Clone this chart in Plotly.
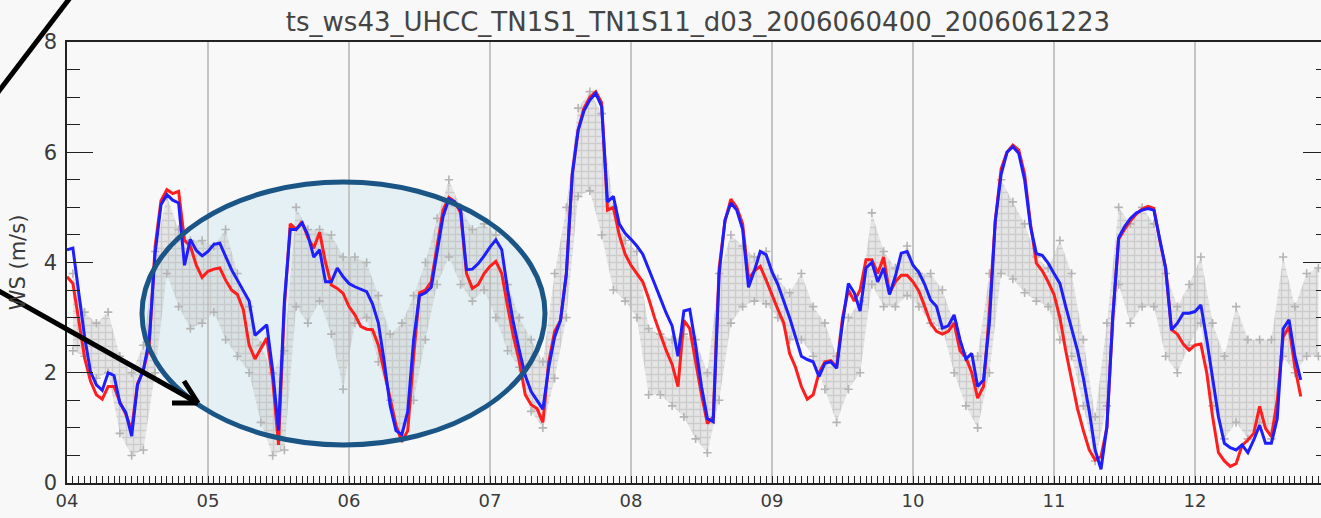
import pandas as pd
import plotly.graph_objects as go

# ---------------- data ----------------
start = "2006-06-04 00:00"

# model run 1 (red), hourly from 2006-06-04 00h
ws_red = [
    3.74, 3.62, 2.95, 2.27, 1.85, 1.6, 1.52, 1.75, 1.75, 1.47,
    1.25, 0.96, 1.8, 2.05, 2.5, 4.29, 5.12, 5.32, 5.25, 5.29,
    4.4, 4.3, 3.95, 3.73, 3.84, 3.88, 3.9, 3.68, 3.5, 3.42,
    3.15, 2.5, 2.25, 2.45, 2.63, 1.9, 0.69, 3.2, 4.7, 4.6,
    4.74, 4.45, 4.26, 4.55, 4.0, 3.59, 3.53, 3.44, 3.2, 3.05,
    2.84, 2.79, 2.78, 2.5, 2.0, 1.5, 1.05, 0.75, 0.95, 2.3,
    3.45, 3.5, 3.65, 4.3, 4.95, 5.18, 5.1, 4.9, 3.8, 3.53,
    3.6, 3.8, 3.93, 4.02, 3.8, 3.2, 2.65, 2.2, 1.6, 1.42,
    1.35, 1.1, 2.2, 2.75, 2.95, 3.8, 5.6, 6.4, 6.8, 7.0,
    7.1, 6.9, 4.95, 5.0, 4.5, 4.15, 3.95, 3.8, 3.65, 3.35,
    3.0, 2.7, 2.4, 2.15, 1.75, 2.95, 2.8, 2.2, 1.6, 1.08,
    1.2, 3.9, 4.75, 5.15, 5.0, 4.7, 3.7, 3.85, 3.93, 3.68,
    3.4, 3.15, 2.9, 2.35, 2.1, 1.75, 1.52, 1.6, 2.0, 2.2,
    2.22, 2.11, 3.0, 3.5, 3.3, 3.5, 4.05, 4.05, 3.8, 4.1,
    3.44, 3.65, 3.77, 3.77, 3.65, 3.48, 3.2, 2.9, 2.75, 2.7,
    2.75, 2.9, 2.4, 2.28, 2.0, 1.54, 1.75, 3.1, 4.75, 5.7,
    6.0, 6.13, 6.04, 5.6, 4.7, 3.99, 3.85, 3.65, 3.42, 3.0,
    2.4, 1.85, 1.35, 0.95, 0.6, 0.42, 0.48, 1.0, 3.0, 4.42,
    4.6, 4.75, 4.88, 4.97, 5.02, 4.98, 4.4, 3.9, 2.78, 2.7,
    2.52, 2.41, 2.5, 2.52, 2.0, 1.2, 0.55, 0.4, 0.3, 0.35,
    0.68, 0.78, 0.9, 1.39, 0.99, 0.84, 1.5, 2.65, 2.84, 2.1, 1.57,
]

# model run 2 (blue), hourly
ws_blue = [
    4.23, 4.26, 3.45, 2.65, 2.02, 1.78, 1.68, 2.0, 1.95, 1.45,
    1.28, 0.85, 1.78, 2.05, 2.6, 4.17, 5.05, 5.23, 5.13, 5.08,
    3.95, 4.42, 4.22, 4.12, 4.2, 4.33, 4.35, 4.1, 3.87, 3.68,
    3.5, 3.3, 2.68, 2.78, 2.87, 2.05, 0.95, 3.3, 4.6, 4.6,
    4.72, 4.5, 4.1, 4.23, 3.65, 3.65, 3.9, 3.74, 3.62, 3.56,
    3.52, 3.47, 3.25, 2.9, 2.2, 1.4, 0.95, 0.88, 1.3, 2.6,
    3.4, 3.45, 3.55, 4.2, 4.83, 5.15, 5.1, 4.95, 3.87, 3.88,
    3.98, 4.12, 4.28, 4.41, 4.23, 3.5, 2.9, 2.4, 1.95, 1.66,
    1.5, 1.34, 2.1, 2.65, 2.95, 3.8, 5.6, 6.4, 6.75, 6.95,
    7.07, 6.83, 5.1, 5.2, 4.7, 4.53, 4.42, 4.3, 4.15, 3.9,
    3.62, 3.35, 3.08, 2.85, 2.3, 3.12, 3.15, 2.5, 1.75, 1.17,
    1.11, 3.8, 4.77, 5.08, 4.95, 4.6, 3.55, 3.85, 4.2, 4.14,
    3.83, 3.6, 3.3, 3.0, 2.65, 2.3, 2.24, 2.2, 1.93, 2.17,
    2.2, 2.08, 2.9, 3.62, 3.45, 3.12, 3.9, 4.0, 3.65, 3.9,
    3.42, 3.75, 4.17, 4.2, 3.95, 3.82, 3.6, 3.32, 3.2, 2.81,
    2.85, 3.05, 2.6, 2.25, 2.35, 1.75, 1.87, 2.9, 4.75, 5.6,
    6.0, 6.1, 5.98, 5.5, 4.65, 4.16, 4.13, 3.99, 3.8, 3.62,
    3.2, 2.78, 2.4, 1.9, 1.3, 0.6, 0.25, 1.02, 3.0, 4.45,
    4.65, 4.8, 4.9, 4.95, 4.98, 4.95, 4.4, 3.9, 2.78, 2.9,
    3.08, 3.08, 3.11, 3.23, 2.6, 1.9, 1.2, 0.72, 0.64, 0.6,
    0.69, 0.55, 0.78, 1.05, 0.72, 0.72, 1.17, 2.8, 2.96, 2.3, 1.87,
]

# observations: lower / upper edge of the dense point cloud, per 2-hour slot
obs_lo = [
    2.4, 2.3, 1.9, 2.0, 0.9, 0.5, 0.6, 2.0, 3.8, 3.2,
    2.8, 2.9, 3.1, 2.6, 2.3, 2.0, 1.1, 0.5, 0.6, 3.2,
    2.9, 3.3, 2.7, 1.7, 2.9, 3.0, 2.2, 1.5, 0.8, 1.5,
    2.6, 3.6, 4.1, 3.6, 3.3, 3.5, 3.0, 2.4, 2.1, 1.3,
    1.0, 1.9, 3.0, 5.2, 5.3, 4.5, 3.5, 3.3, 3.0, 1.6,
    1.6, 1.4, 1.2, 0.8, 0.55, 1.5, 2.9, 3.2, 3.3, 3.25,
    3.0, 2.6, 2.6, 2.3, 1.7, 1.1, 1.7, 2.0, 3.6, 3.2,
    3.2, 3.4, 3.2, 2.9, 2.8, 2.0, 1.4, 1.0, 2.0, 3.8,
    3.7, 3.45, 3.3, 3.2, 2.6, 2.3, 1.4, 0.4, 1.4, 3.6,
    2.9, 3.2, 3.2, 2.3, 2.0, 2.5, 2.9, 1.4, 0.8, 1.1,
    0.8, 1.1, 0.8, 2.3, 2.0, 2.3, 2.3,
]
obs_hi = [
    3.8, 3.1, 2.9, 3.1, 2.3, 2.0, 2.5, 4.2, 5.2, 4.6,
    4.4, 4.4, 4.3, 4.6, 3.8, 3.2, 2.5, 2.0, 2.4, 5.0,
    4.6, 4.6, 4.5, 4.1, 4.1, 4.0, 3.4, 2.7, 2.9, 3.4,
    4.0, 4.8, 5.5, 5.0, 4.6, 4.7, 4.5, 3.6, 3.0, 2.6,
    2.2, 3.8, 5.0, 6.8, 7.1, 6.7, 5.0, 4.4, 4.2, 2.8,
    2.7, 2.6, 2.7, 2.6, 2.0, 3.8, 4.5, 4.3, 4.1, 4.2,
    3.7, 3.45, 3.8, 3.2, 2.9, 2.3, 3.0, 3.3, 4.9, 4.2,
    3.9, 4.3, 3.8, 3.8, 3.5, 2.9, 2.3, 2.3, 3.8, 5.5,
    5.1, 4.7, 4.1, 3.9, 4.4, 3.8, 2.6, 1.2, 2.9, 5.0,
    4.7, 5.0, 4.7, 3.8, 3.2, 3.6, 4.1, 2.9, 2.3, 3.2,
    2.6, 2.6, 2.6, 4.1, 3.2, 3.8, 3.9,
]

title_text = "ts_ws43_UHCC_TN1S1_TN1S11_d03_2006060400_2006061223"
y_title = "WS (m/s)"

# ---------------- build ----------------
t_model = pd.date_range(start, periods=len(ws_red), freq="h")
t_obs = pd.date_range(pd.Timestamp(start) + pd.Timedelta(hours=1),
                      periods=len(obs_lo), freq="2h")

W, H = 1321, 518
L, R, T, B = 67, 1321, 42, 483          # plot area in pixels


def px(xp):
    return (xp - L) / (R - L)


def py(yp):
    return (B - yp) / (B - T)


OBS_GREY = "#b4b4b4"

fig = go.Figure()
fig.add_trace(go.Scatter(x=t_obs, y=obs_lo, mode="lines",
                         line=dict(width=0, color="rgba(0,0,0,0)"),
                         hoverinfo="skip"))
fig.add_trace(go.Scatter(x=t_obs, y=obs_hi, mode="lines", fill="tonexty",
                         line=dict(width=0, color="rgba(0,0,0,0)"),
                         fillcolor="rgba(200,200,200,0.35)",
                         fillpattern=dict(shape="+", size=7, solidity=0.35,
                                          fgcolor=OBS_GREY,
                                          bgcolor="rgba(200,200,200,0.40)"),
                         hoverinfo="skip"))
# scattered observation points along the edges of the cloud
fig.add_trace(go.Scatter(x=list(t_obs) + list(t_obs), y=obs_lo + obs_hi,
                         mode="markers",
                         marker=dict(symbol="cross-thin", size=6,
                                     line=dict(width=1.6, color=OBS_GREY)),
                         hoverinfo="skip"))
fig.add_trace(go.Scatter(x=t_model, y=ws_red, mode="lines",
                         line=dict(color="#ff1e1e", width=3)))
fig.add_trace(go.Scatter(x=t_model, y=ws_blue, mode="lines",
                         line=dict(color="#1e1eff", width=3)))
# empty trace so that the right-hand tick axis is drawn
fig.add_trace(go.Scatter(x=[], y=[], yaxis="y2", hoverinfo="skip"))

font_main = "DejaVu Sans"
x_end = pd.Timestamp(start) + pd.Timedelta(days=(R - L) / 141.0)

fig.update_layout(
    width=W, height=H,
    margin=dict(l=L, r=W - R, t=T, b=H - B, autoexpand=False),
    paper_bgcolor="#f8f8f8", plot_bgcolor="#f8f8f8",
    showlegend=False,
    font=dict(family=font_main, color="#3a3a3a", size=20),
    title=dict(text=title_text, x=px(698), xref="paper", xanchor="center",
               y=1 - 22 / H, yref="container", yanchor="middle",
               font=dict(family=font_main, size=26, color="#444444")),
    xaxis=dict(
        type="date", range=[pd.Timestamp(start), x_end], automargin=False,
        tick0=start, dtick=86400000, tickformat="%d",
        ticks="inside", ticklen=7, tickcolor="#222222", tickwidth=1.3,
        showgrid=True, gridcolor="#c4c4c4", gridwidth=1.5,
        showline=True, linecolor="#222222", linewidth=1.5, mirror=True,
        minor=dict(dtick=3600000, ticks="inside", ticklen=7,
                   tickcolor="#222222", tickwidth=1.2, showgrid=False),
        ticklabelstandoff=1,
        tickfont=dict(size=18, color="#3a3a3a"),
        zeroline=False,
    ),
    yaxis=dict(
        range=[0, 8], tickvals=[0, 2, 4, 6, 8], automargin=False,
        ticks="inside", ticklen=26, tickcolor="#222222", tickwidth=1.3,
        minor=dict(dtick=0.5, ticks="inside", ticklen=13,
                   tickcolor="#222222", tickwidth=1.3),
        showgrid=False, zeroline=False,
        showline=True, linecolor="#222222", linewidth=1.5,
        ticklabelstandoff=4,
        tickfont=dict(size=21, color="#3a3a3a"),
        title=dict(text=y_title, standoff=12,
                   font=dict(size=21, color="#3a3a3a")),
    ),
    # right-hand axis: ticks only (its line lies just outside the picture)
    yaxis2=dict(
        overlaying="y", side="right", range=[0, 8], automargin=False,
        tickvals=[0, 2, 4, 6, 8], showticklabels=False,
        ticks="inside", ticklen=18, tickcolor="#222222", tickwidth=1.3,
        minor=dict(dtick=0.5, ticks="inside", ticklen=5,
                   tickcolor="#222222", tickwidth=1.3),
        showgrid=False, zeroline=False, showline=False,
    ),
)

# highlight ellipse: translucent fill under the lines, outline above them
fig.add_shape(type="circle", xref="paper", yref="paper",
              x0=px(142), x1=px(545), y0=py(445), y1=py(182),
              line=dict(width=0), fillcolor="rgba(160,212,226,0.22)",
              layer="between")
fig.add_shape(type="circle", xref="paper", yref="paper",
              x0=px(142), x1=px(545), y0=py(445), y1=py(182),
              line=dict(color="#1b5586", width=5),
              fillcolor="rgba(0,0,0,0)", layer="above")

# black annotation arrows
arrow = dict(color="#000000", width=5)
fig.add_shape(type="line", xref="paper", yref="paper",
              x0=px(-8), y0=py(100), x1=px(76), y1=py(-10), line=arrow)
fig.add_shape(type="line", xref="paper", yref="paper",
              x0=px(-10), y0=py(286), x1=px(198), y1=py(403), line=arrow)
fig.add_shape(type="line", xref="paper", yref="paper",
              x0=px(198), y0=py(403), x1=px(172), y1=py(403), line=arrow)
fig.add_shape(type="line", xref="paper", yref="paper",
              x0=px(198), y0=py(403), x1=px(184), y1=py(381), line=arrow)

fig.write_html("out.html")
